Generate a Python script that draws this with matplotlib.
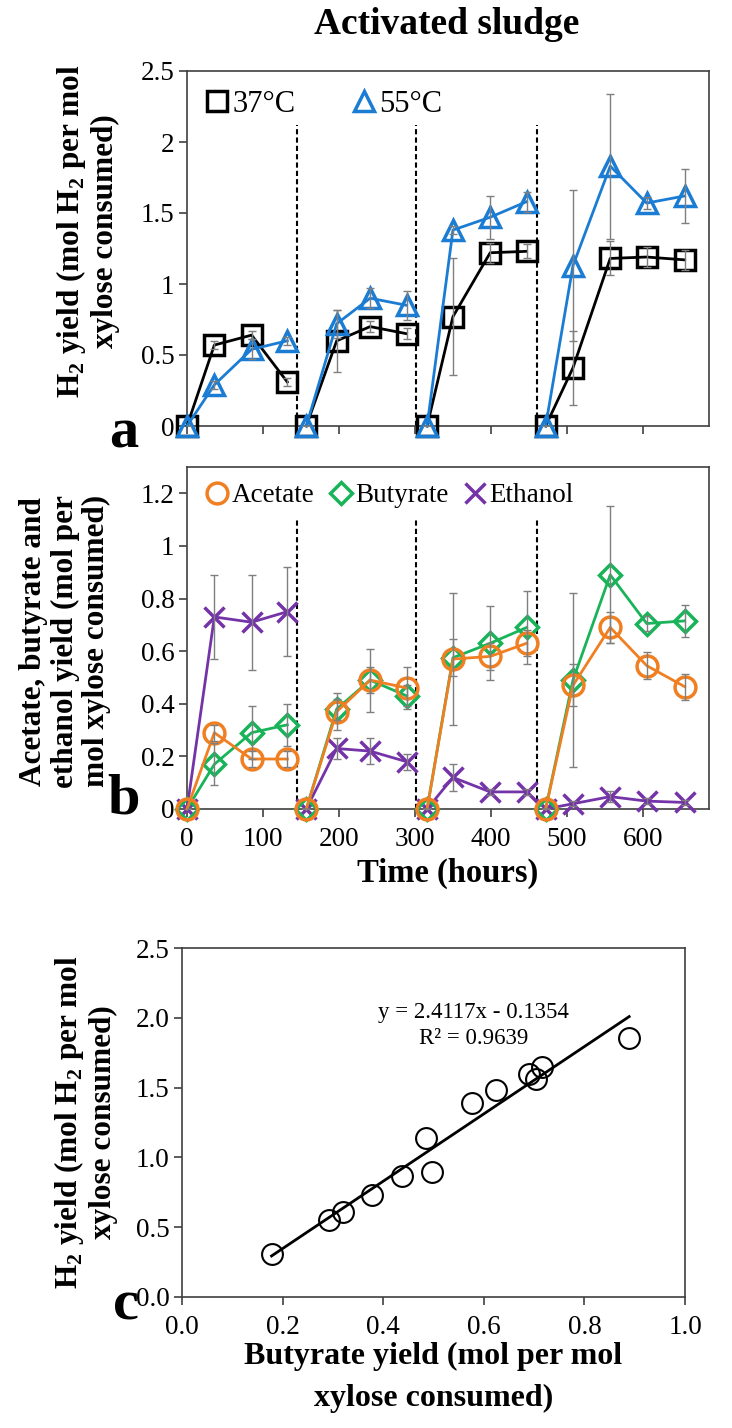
import numpy as np
import matplotlib
matplotlib.use("Agg")
import matplotlib.pyplot as plt
from matplotlib.lines import Line2D
from matplotlib.ticker import FuncFormatter

plt.rcParams['font.family'] = ['Liberation Serif', 'DejaVu Serif']
plt.rcParams['mathtext.fontset'] = 'custom'
plt.rcParams['mathtext.rm'] = 'Liberation Serif'
plt.rcParams['mathtext.bf'] = 'Liberation Serif:bold'

## sampling times for each feeding cycle (hours)
t_cycles = [[0, 36, 85, 132],
            [157, 197, 241, 289],
            [316, 350, 399, 447],
            [472, 508, 557, 605, 655]]
cycle_breaks = [145, 302, 460]

## panel a: H2 yield
h2_37 = [[0, 0.57, 0.64, 0.31], [0, 0.60, 0.70, 0.65],
         [0, 0.77, 1.22, 1.23], [0, 0.41, 1.18, 1.19, 1.17]]
h2_37_err = [[0, 0.03, 0.03, 0.03], [0, 0.22, 0.04, 0.04],
             [0, 0.41, 0.07, 0.05], [0, 0.26, 0.12, 0.07, 0.07]]
h2_55 = [[0, 0.29, 0.54, 0.60], [0, 0.72, 0.90, 0.85],
         [0, 1.38, 1.47, 1.58], [0, 1.13, 1.83, 1.57, 1.62]]
h2_55_err = [[0, 0.03, 0.07, 0.03], [0, 0.10, 0.07, 0.10],
             [0, 0.03, 0.15, 0.07], [0, 0.53, 0.51, 0.04, 0.19]]

## panel b: metabolites
acetate = [[0, 0.29, 0.19, 0.19], [0, 0.37, 0.49, 0.46],
           [0, 0.57, 0.58, 0.63], [0, 0.47, 0.69, 0.545, 0.465]]
acetate_err = [[0, 0.03, 0.03, 0.03], [0, 0.07, 0.12, 0.08],
               [0, 0.25, 0.05, 0.05], [0, 0.08, 0.06, 0.05, 0.05]]
butyrate = [[0, 0.17, 0.29, 0.32], [0, 0.38, 0.49, 0.43],
            [0, 0.575, 0.63, 0.69], [0, 0.49, 0.89, 0.705, 0.715]]
butyrate_err = [[0, 0.08, 0.10, 0.08], [0, 0.04, 0.05, 0.04],
                [0, 0.07, 0.14, 0.14], [0, 0.33, 0.26, 0.03, 0.06]]
ethanol = [[0, 0.73, 0.71, 0.75], [0, 0.23, 0.22, 0.18],
           [0, 0.12, 0.065, 0.065], [0, 0.02, 0.047, 0.03, 0.025]]
ethanol_err = [[0, 0.16, 0.18, 0.17], [0, 0.04, 0.05, 0.03],
               [0, 0.05, 0.01, 0.01], [0, 0.01, 0.02, 0.01, 0.01]]

## panel c: H2 yield vs butyrate yield
but_c = [0.178, 0.293, 0.32, 0.377, 0.437, 0.486, 0.498, 0.577, 0.624, 0.689, 0.704, 0.716, 0.889]
h2_c = [0.31, 0.55, 0.61, 0.73, 0.87, 1.14, 0.895, 1.39, 1.48, 1.60, 1.56, 1.65, 1.855]
slope, intercept, r2 = 2.4117, -0.1354, 0.9639

c_blue = '#1B7CD3'
c_orange = '#F07F22'
c_green = '#19B35A'
c_purple = '#7434A8'
c_err = '#7F7F7F'
spine_c = '#404040'

W, H = 732, 1428
fig = plt.figure(figsize=(W / 100, H / 100), dpi=100)

def px_axes(l, t, r, b):
    return fig.add_axes([l / W, 1 - b / H, (r - l) / W, (b - t) / H])

def style(ax):
    for s in ax.spines.values():
        s.set_color(spine_c)
        s.set_linewidth(1.2)
    ax.tick_params(direction='out', length=6, width=1.2, color=spine_c,
                   labelsize=19.5, pad=3)
    ax.yaxis.set_major_formatter(FuncFormatter(lambda v, p: '%g' % round(v, 2)))

ylab_kw = dict(fontsize=22.5, fontweight='bold', linespacing=1.12)

# ---------- panel a ----------
axa = px_axes(187, 71, 709, 426)
style(axa)
for i in range(4):
    axa.errorbar(t_cycles[i], h2_37[i], yerr=h2_37_err[i], fmt='none',
                 ecolor=c_err, elinewidth=1, capsize=3, zorder=4)
    axa.errorbar(t_cycles[i], h2_55[i], yerr=h2_55_err[i], fmt='none',
                 ecolor=c_err, elinewidth=1, capsize=3, zorder=4)
    axa.plot(t_cycles[i], h2_37[i], color='black', lw=2, marker='s', ms=14,
             mfc='none', mec='black', mew=2.5, zorder=3, clip_on=False)
    axa.plot(t_cycles[i], h2_55[i], color=c_blue, lw=2, marker='^', ms=15,
             mfc='none', mec=c_blue, mew=2.5, zorder=3, clip_on=False)
for xb in cycle_breaks:
    axa.plot([xb, xb], [0, 2.12], color='black', lw=1.5, ls=(0, (2.5, 1.5)), zorder=2)
axa.set_xlim(0, 687)
axa.set_ylim(0, 2.5)
axa.set_xticks([0, 100, 200, 300, 400, 500, 600])
axa.set_xticklabels([])
axa.set_yticks([0, 0.5, 1, 1.5, 2, 2.5])
axa.set_ylabel('H$_\\mathbf{2}$ yield (mol H$_\\mathbf{2}$ per mol\nxylose consumed)', **ylab_kw)
axa.yaxis.set_label_coords(-0.128, 0.55)
hd = [Line2D([], [], ls='none', marker='s', ms=14, mfc='none', mec='black', mew=2.5),
      Line2D([], [], ls='none', marker='^', ms=15, mfc='none', mec=c_blue, mew=2.5)]
axa.legend(hd, ['37°C', '55°C'], loc='upper left', ncol=2, frameon=False,
           fontsize=22, handletextpad=-0.15, columnspacing=1.6, handlelength=1.3,
           borderaxespad=0.15, bbox_to_anchor=(-0.013, 0.995))

# ---------- panel b ----------
axb = px_axes(187, 467, 709, 809)
style(axb)
series_b = [(acetate, acetate_err, c_orange, 'o', 15),
            (butyrate, butyrate_err, c_green, 'D', 11),
            (ethanol, ethanol_err, c_purple, 'x', 15)]
for i in range(4):
    for vals, errs, col, mk, ms in series_b:
        axb.errorbar(t_cycles[i], vals[i], yerr=errs[i], fmt='none',
                     ecolor=c_err, elinewidth=1, capsize=3, zorder=4)
for i in range(4):
    for vals, errs, col, mk, ms in series_b[::-1]:
        axb.plot(t_cycles[i], vals[i], color=col, lw=2, marker=mk, ms=ms,
                 mfc='none', mec=col, mew=2.5, zorder=3, clip_on=False)
for xb in cycle_breaks:
    axb.plot([xb, xb], [0, 1.1], color='black', lw=1.5, ls=(0, (2.5, 1.5)), zorder=2)
axb.set_xlim(0, 687)
axb.set_ylim(0, 1.3)
axb.set_xticks([0, 100, 200, 300, 400, 500, 600])
axb.set_yticks([0, 0.2, 0.4, 0.6, 0.8, 1.0, 1.2])
axb.tick_params(axis='x', pad=7)
axb.set_xlabel('Time (hours)', fontsize=23.5, fontweight='bold', labelpad=4)
axb.set_ylabel('Acetate, butyrate and\nethanol yield (mol per\nmol xylose consumed)', **ylab_kw)
axb.yaxis.set_label_coords(-0.145, 0.49)
hd = [Line2D([], [], ls='none', marker='o', ms=15, mfc='none', mec=c_orange, mew=2.5),
      Line2D([], [], ls='none', marker='D', ms=11, mfc='none', mec=c_green, mew=2.5),
      Line2D([], [], ls='none', marker='x', ms=15, mfc='none', mec=c_purple, mew=2.5)]
axb.legend(hd, ['Acetate', 'Butyrate', 'Ethanol'], loc='upper left', ncol=3,
           frameon=False, fontsize=19.5, handletextpad=-0.2, columnspacing=0.2,
           handlelength=1.5, borderaxespad=0.2, bbox_to_anchor=(-0.012, 1.0))

# ---------- panel c ----------
axc = px_axes(182, 948, 685, 1297)
style(axc)
xfit = np.array([min(but_c), max(but_c)])
axc.plot(xfit, slope * xfit + intercept, color='black', lw=2, zorder=2)
axc.plot(but_c, h2_c, ls='none', marker='o', ms=15, mfc='none', mec='black',
         mew=1.5, zorder=3)
axc.text(0.58, 2.04, 'y = 2.4117x - 0.1354', fontsize=16.5, ha='center', va='center')
axc.text(0.58, 1.855, 'R² = 0.9639', fontsize=16.5, ha='center', va='center')
axc.set_xlim(0, 1.0)
axc.set_ylim(0, 2.5)
axc.set_xticks([0, 0.2, 0.4, 0.6, 0.8, 1.0])
axc.set_yticks([0, 0.5, 1.0, 1.5, 2.0, 2.5])
axc.xaxis.set_major_formatter(FuncFormatter(lambda v, p: '%.1f' % v))
axc.yaxis.set_major_formatter(FuncFormatter(lambda v, p: '%.1f' % v))
axc.tick_params(axis='x', pad=7)
axc.set_xlabel('Butyrate yield (mol per mol\nxylose consumed)', fontsize=23,
               fontweight='bold', linespacing=1.6, labelpad=1)
axc.set_ylabel('H$_\\mathbf{2}$ yield (mol H$_\\mathbf{2}$ per mol\nxylose consumed)', **ylab_kw)
axc.yaxis.set_label_coords(-0.128, 0.5)

# panel letters and title
fig.text(124 / W, 1 - 433 / H, 'a', fontsize=42, fontweight='bold', ha='center', va='center')
fig.text(124 / W, 1 - 800 / H, 'b', fontsize=42, fontweight='bold', ha='center', va='center')
fig.text(126 / W, 1 - 1306 / H, 'c', fontsize=42, fontweight='bold', ha='center', va='center')
fig.text(447 / W, 1 - 24 / H, 'Activated sludge', fontsize=27, fontweight='bold',
         ha='center', va='center')

fig.savefig('out.png', dpi=100, facecolor='white')
